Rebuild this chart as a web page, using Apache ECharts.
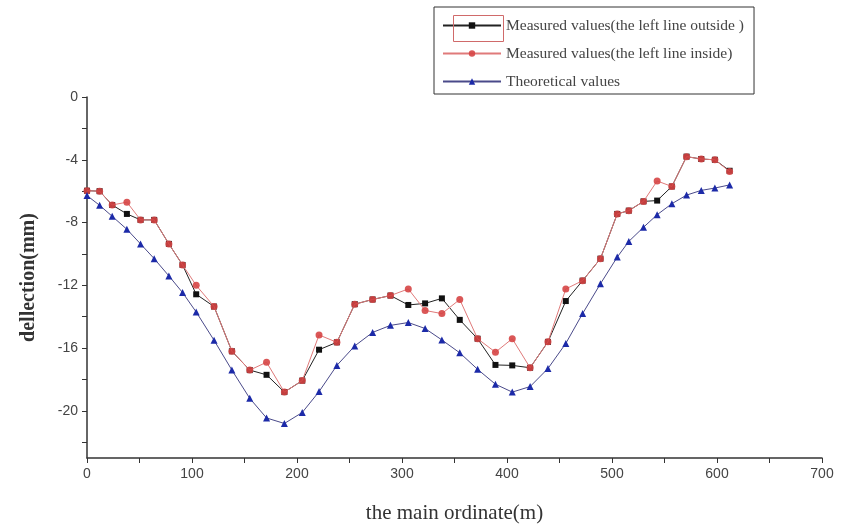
<!DOCTYPE html>
<html>
<head>
<meta charset="utf-8">
<script src="https://cdn.jsdelivr.net/npm/echarts@6/dist/echarts.min.js"></script>
<style>html,body{margin:0;padding:0;background:#fff;}#c{width:842px;height:531px;}</style>
</head>
<body>
<div id="c"></div>
<script>
var stations = [0, 12, 24, 38, 51, 64, 78, 91, 104, 121, 138, 155, 171, 188, 205, 221, 238, 255, 272, 289, 306, 322, 338, 355, 372, 389, 405, 422, 439, 456, 472, 489, 505, 516, 530, 543, 557, 571, 585, 598, 612];
var outsideVals = [-5.97, -6.0, -6.88, -7.45, -7.83, -7.83, -9.36, -10.7, -12.57, -13.35, -16.2, -17.4, -17.7, -18.8, -18.07, -16.1, -15.63, -13.2, -12.9, -12.65, -13.25, -13.15, -12.83, -14.2, -15.4, -17.07, -17.1, -17.25, -15.6, -13.0, -11.7, -10.3, -7.45, -7.24, -6.65, -6.6, -5.7, -3.8, -3.95, -4.0, -4.7];
var insideVals = [-5.97, -6.0, -6.88, -6.7, -7.83, -7.83, -9.36, -10.7, -12.0, -13.35, -16.2, -17.4, -16.9, -18.8, -18.07, -15.16, -15.63, -13.2, -12.9, -12.65, -12.23, -13.6, -13.8, -12.9, -15.4, -16.26, -15.4, -17.25, -15.6, -12.23, -11.7, -10.3, -7.45, -7.24, -6.65, -5.35, -5.7, -3.8, -3.95, -4.0, -4.75];
var theoryVals = [-6.28, -6.9, -7.6, -8.43, -9.36, -10.3, -11.4, -12.46, -13.7, -15.5, -17.4, -19.2, -20.45, -20.8, -20.1, -18.77, -17.1, -15.86, -15.0, -14.55, -14.37, -14.75, -15.48, -16.3, -17.35, -18.3, -18.8, -18.45, -17.3, -15.7, -13.8, -11.9, -10.2, -9.2, -8.3, -7.5, -6.8, -6.25, -5.95, -5.8, -5.6];
var seriesNames = ['Measured values(the left line outside )', 'Measured values(the left line inside)', 'Theoretical values'];
var yLabelValues = [0, -4, -8, -12, -16, -20];
var yTickValues = [0, -2, -4, -6, -8, -10, -12, -14, -16, -18, -20, -22];

function pairs(xs, ys) { return xs.map(function (x, i) { return [x, ys[i]]; }); }

var chart = echarts.init(document.getElementById('c'));
chart.setOption({
  animation: false,
  backgroundColor: '#fff',
  grid: { left: 87, right: 20, top: 97, bottom: 73 },
  legend: {
    orient: 'vertical',
    left: 434, top: 7,
    padding: [10, 10, 4, 8],
    itemWidth: 58, itemHeight: 8, itemGap: 11,
    borderColor: '#333', borderWidth: 1,
    backgroundColor: '#fff',
    textStyle: { fontFamily: 'Liberation Serif', fontSize: 15.5, color: '#444', lineHeight: 17 },
    data: seriesNames
  },
  graphic: [{
    type: 'rect', left: 451, top: 13, z: 100,
    shape: { width: 50, height: 26 },
    style: { fill: 'none', stroke: '#d06a6a', lineWidth: 1 }
  }],
  xAxis: {
    type: 'value', min: 0, max: 700, interval: 50,
    name: 'the main ordinate(m)', nameLocation: 'middle', nameGap: 45,
    nameTextStyle: { fontFamily: 'Liberation Serif', fontSize: 21, color: '#333' },
    axisLine: { onZero: false, lineStyle: { color: '#333', width: 1.5 } },
    axisTick: { show: true, length: 5, inside: false, lineStyle: { color: '#333' } },
    axisLabel: {
      fontFamily: 'Liberation Sans', fontSize: 14, color: '#444', margin: 9,
      formatter: function (v) { return v % 100 === 0 ? String(v) : ''; }
    },
    splitLine: { show: false }
  },
  yAxis: {
    type: 'value', min: -23, max: 0,
    name: 'dellection(mm)', nameLocation: 'middle', nameGap: 48,
    nameTextStyle: { fontFamily: 'Liberation Serif', fontSize: 20, fontWeight: 'bold', color: '#333' },
    axisLine: { show: true, lineStyle: { color: '#333', width: 1.5 } },
    axisTick: { show: true, length: 5, inside: false, customValues: yTickValues, lineStyle: { color: '#333' } },
    axisLabel: { fontFamily: 'Liberation Sans', fontSize: 14, color: '#444', margin: 9, customValues: yLabelValues },
    splitLine: { show: false }
  },
  series: [
    {
      name: seriesNames[0], type: 'line', data: pairs(stations, outsideVals),
      symbol: 'rect', symbolSize: 6, z: 2,
      lineStyle: { color: '#222', width: 1 },
      itemStyle: { color: '#111' }
    },
    {
      name: seriesNames[1], type: 'line', data: pairs(stations, insideVals),
      symbol: 'circle', symbolSize: 7, z: 3,
      lineStyle: { color: '#e07a7a', width: 1 },
      itemStyle: { color: '#d64545', opacity: 0.9 }
    },
    {
      name: seriesNames[2], type: 'line', data: pairs(stations, theoryVals),
      symbol: 'triangle', symbolSize: 7, z: 4,
      lineStyle: { color: '#4a4a8a', width: 1 },
      itemStyle: { color: '#1c2aa8' }
    }
  ]
});
</script>
</body>
</html>
